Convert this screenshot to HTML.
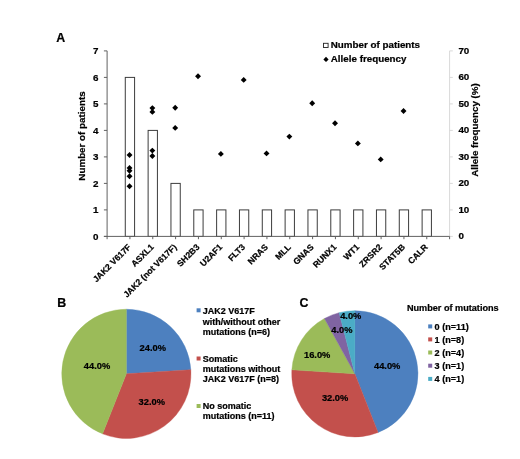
<!DOCTYPE html>
<html><head><meta charset="utf-8"><title>Figure</title>
<style>
html,body{margin:0;padding:0;background:#fff;}
body{width:520px;height:459px;overflow:hidden;}
svg{display:block;will-change:transform;}
text{font-family:"Liberation Sans",Arial,Helvetica,sans-serif;font-weight:bold;fill:#000;stroke:#000;stroke-width:0.22px;stroke-linejoin:round;}
</style></head><body>
<svg width="520" height="459" viewBox="0 0 520 459">
<rect width="520" height="459" fill="#ffffff"/>
<rect x="125.28" y="77.40" width="9.3" height="159.00" fill="#fff" stroke="#3c3c3c" stroke-width="1"/>
<rect x="148.12" y="130.40" width="9.3" height="106.00" fill="#fff" stroke="#3c3c3c" stroke-width="1"/>
<rect x="170.95" y="183.40" width="9.3" height="53.00" fill="#fff" stroke="#3c3c3c" stroke-width="1"/>
<rect x="193.78" y="209.90" width="9.3" height="26.50" fill="#fff" stroke="#3c3c3c" stroke-width="1"/>
<rect x="216.62" y="209.90" width="9.3" height="26.50" fill="#fff" stroke="#3c3c3c" stroke-width="1"/>
<rect x="239.45" y="209.90" width="9.3" height="26.50" fill="#fff" stroke="#3c3c3c" stroke-width="1"/>
<rect x="262.28" y="209.90" width="9.3" height="26.50" fill="#fff" stroke="#3c3c3c" stroke-width="1"/>
<rect x="285.12" y="209.90" width="9.3" height="26.50" fill="#fff" stroke="#3c3c3c" stroke-width="1"/>
<rect x="307.95" y="209.90" width="9.3" height="26.50" fill="#fff" stroke="#3c3c3c" stroke-width="1"/>
<rect x="330.78" y="209.90" width="9.3" height="26.50" fill="#fff" stroke="#3c3c3c" stroke-width="1"/>
<rect x="353.62" y="209.90" width="9.3" height="26.50" fill="#fff" stroke="#3c3c3c" stroke-width="1"/>
<rect x="376.45" y="209.90" width="9.3" height="26.50" fill="#fff" stroke="#3c3c3c" stroke-width="1"/>
<rect x="399.28" y="209.90" width="9.3" height="26.50" fill="#fff" stroke="#3c3c3c" stroke-width="1"/>
<rect x="422.12" y="209.90" width="9.3" height="26.50" fill="#fff" stroke="#3c3c3c" stroke-width="1"/>
<line x1="449.6" y1="50.9" x2="449.6" y2="236.4" stroke="#d9d9d9" stroke-width="1"/>
<line x1="449.6" y1="236.40" x2="452.8" y2="236.40" stroke="#d9d9d9" stroke-width="1"/>
<line x1="449.6" y1="209.90" x2="452.8" y2="209.90" stroke="#d9d9d9" stroke-width="1"/>
<line x1="449.6" y1="183.40" x2="452.8" y2="183.40" stroke="#d9d9d9" stroke-width="1"/>
<line x1="449.6" y1="156.90" x2="452.8" y2="156.90" stroke="#d9d9d9" stroke-width="1"/>
<line x1="449.6" y1="130.40" x2="452.8" y2="130.40" stroke="#d9d9d9" stroke-width="1"/>
<line x1="449.6" y1="103.90" x2="452.8" y2="103.90" stroke="#d9d9d9" stroke-width="1"/>
<line x1="449.6" y1="77.40" x2="452.8" y2="77.40" stroke="#d9d9d9" stroke-width="1"/>
<line x1="449.6" y1="50.90" x2="452.8" y2="50.90" stroke="#d9d9d9" stroke-width="1"/>
<line x1="107.1" y1="50.9" x2="107.1" y2="236.9" stroke="#626262" stroke-width="1"/>
<line x1="103.89999999999999" y1="236.40" x2="107.1" y2="236.40" stroke="#626262" stroke-width="1"/>
<line x1="103.89999999999999" y1="209.90" x2="107.1" y2="209.90" stroke="#626262" stroke-width="1"/>
<line x1="103.89999999999999" y1="183.40" x2="107.1" y2="183.40" stroke="#626262" stroke-width="1"/>
<line x1="103.89999999999999" y1="156.90" x2="107.1" y2="156.90" stroke="#626262" stroke-width="1"/>
<line x1="103.89999999999999" y1="130.40" x2="107.1" y2="130.40" stroke="#626262" stroke-width="1"/>
<line x1="103.89999999999999" y1="103.90" x2="107.1" y2="103.90" stroke="#626262" stroke-width="1"/>
<line x1="103.89999999999999" y1="77.40" x2="107.1" y2="77.40" stroke="#626262" stroke-width="1"/>
<line x1="103.89999999999999" y1="50.90" x2="107.1" y2="50.90" stroke="#626262" stroke-width="1"/>
<line x1="103.89999999999999" y1="236.4" x2="449.6" y2="236.4" stroke="#626262" stroke-width="1"/>
<line x1="107.10" y1="236.4" x2="107.10" y2="239.20000000000002" stroke="#626262" stroke-width="1"/>
<line x1="129.93" y1="236.4" x2="129.93" y2="239.20000000000002" stroke="#626262" stroke-width="1"/>
<line x1="152.77" y1="236.4" x2="152.77" y2="239.20000000000002" stroke="#626262" stroke-width="1"/>
<line x1="175.60" y1="236.4" x2="175.60" y2="239.20000000000002" stroke="#626262" stroke-width="1"/>
<line x1="198.43" y1="236.4" x2="198.43" y2="239.20000000000002" stroke="#626262" stroke-width="1"/>
<line x1="221.27" y1="236.4" x2="221.27" y2="239.20000000000002" stroke="#626262" stroke-width="1"/>
<line x1="244.10" y1="236.4" x2="244.10" y2="239.20000000000002" stroke="#626262" stroke-width="1"/>
<line x1="266.93" y1="236.4" x2="266.93" y2="239.20000000000002" stroke="#626262" stroke-width="1"/>
<line x1="289.77" y1="236.4" x2="289.77" y2="239.20000000000002" stroke="#626262" stroke-width="1"/>
<line x1="312.60" y1="236.4" x2="312.60" y2="239.20000000000002" stroke="#626262" stroke-width="1"/>
<line x1="335.43" y1="236.4" x2="335.43" y2="239.20000000000002" stroke="#626262" stroke-width="1"/>
<line x1="358.27" y1="236.4" x2="358.27" y2="239.20000000000002" stroke="#626262" stroke-width="1"/>
<line x1="381.10" y1="236.4" x2="381.10" y2="239.20000000000002" stroke="#626262" stroke-width="1"/>
<line x1="403.93" y1="236.4" x2="403.93" y2="239.20000000000002" stroke="#626262" stroke-width="1"/>
<line x1="426.77" y1="236.4" x2="426.77" y2="239.20000000000002" stroke="#626262" stroke-width="1"/>
<line x1="449.60" y1="236.4" x2="449.60" y2="239.20000000000002" stroke="#626262" stroke-width="1"/>
<text x="98.50" y="239.55" font-size="9.8" text-anchor="end">0</text>
<text x="458.40" y="239.20" font-size="9.8">0</text>
<text x="98.50" y="213.05" font-size="9.8" text-anchor="end">1</text>
<text x="458.40" y="212.70" font-size="9.8">10</text>
<text x="98.50" y="186.55" font-size="9.8" text-anchor="end">2</text>
<text x="458.40" y="186.20" font-size="9.8">20</text>
<text x="98.50" y="160.05" font-size="9.8" text-anchor="end">3</text>
<text x="458.40" y="159.70" font-size="9.8">30</text>
<text x="98.50" y="133.55" font-size="9.8" text-anchor="end">4</text>
<text x="458.40" y="133.20" font-size="9.8">40</text>
<text x="98.50" y="107.05" font-size="9.8" text-anchor="end">5</text>
<text x="458.40" y="106.70" font-size="9.8">50</text>
<text x="98.50" y="80.55" font-size="9.8" text-anchor="end">6</text>
<text x="458.40" y="80.20" font-size="9.8">60</text>
<text x="98.50" y="54.05" font-size="9.8" text-anchor="end">7</text>
<text x="458.40" y="53.70" font-size="9.8">70</text>
<text transform="translate(85.0,136) rotate(-90)" font-size="9.8" text-anchor="middle">Number of patients</text>
<text transform="translate(478.4,130) rotate(-90)" font-size="9.8" text-anchor="middle">Allele frequency (%)</text>
<text transform="translate(131.53,247.70) rotate(-45)" font-size="8.6" text-anchor="end">JAK2 V617F</text>
<text transform="translate(154.37,247.70) rotate(-45)" font-size="8.6" text-anchor="end">ASXL1</text>
<text transform="translate(177.20,247.70) rotate(-45)" font-size="8.6" text-anchor="end">JAK2 (not V617F)</text>
<text transform="translate(200.03,247.70) rotate(-45)" font-size="8.6" text-anchor="end">SH2B3</text>
<text transform="translate(222.87,247.70) rotate(-45)" font-size="8.6" text-anchor="end">U2AF1</text>
<text transform="translate(245.70,247.70) rotate(-45)" font-size="8.6" text-anchor="end">FLT3</text>
<text transform="translate(268.53,247.70) rotate(-45)" font-size="8.6" text-anchor="end">NRAS</text>
<text transform="translate(291.37,247.70) rotate(-45)" font-size="8.6" text-anchor="end">MLL</text>
<text transform="translate(314.20,247.70) rotate(-45)" font-size="8.6" text-anchor="end">GNAS</text>
<text transform="translate(337.03,247.70) rotate(-45)" font-size="8.6" text-anchor="end">RUNX1</text>
<text transform="translate(359.87,247.70) rotate(-45)" font-size="8.6" text-anchor="end">WT1</text>
<text transform="translate(382.70,247.70) rotate(-45)" font-size="8.6" text-anchor="end">ZRSR2</text>
<text transform="translate(405.53,247.70) rotate(-45)" font-size="8.6" text-anchor="end">STAT5B</text>
<text transform="translate(428.37,247.70) rotate(-45)" font-size="8.6" text-anchor="end">CALR</text>
<path d="M129.53 152.05L132.48 155.00L129.53 157.95L126.58 155.00Z" fill="#000"/>
<path d="M129.53 164.95L132.48 167.90L129.53 170.85L126.58 167.90Z" fill="#000"/>
<path d="M129.53 167.85L132.48 170.80L129.53 173.75L126.58 170.80Z" fill="#000"/>
<path d="M129.53 173.25L132.48 176.20L129.53 179.15L126.58 176.20Z" fill="#000"/>
<path d="M129.53 183.25L132.48 186.20L129.53 189.15L126.58 186.20Z" fill="#000"/>
<path d="M152.37 105.15L155.32 108.10L152.37 111.05L149.42 108.10Z" fill="#000"/>
<path d="M152.37 108.95L155.32 111.90L152.37 114.85L149.42 111.90Z" fill="#000"/>
<path d="M152.37 147.65L155.32 150.60L152.37 153.55L149.42 150.60Z" fill="#000"/>
<path d="M152.37 153.05L155.32 156.00L152.37 158.95L149.42 156.00Z" fill="#000"/>
<path d="M175.20 104.75L178.15 107.70L175.20 110.65L172.25 107.70Z" fill="#000"/>
<path d="M175.20 124.95L178.15 127.90L175.20 130.85L172.25 127.90Z" fill="#000"/>
<path d="M198.03 73.25L200.98 76.20L198.03 79.15L195.08 76.20Z" fill="#000"/>
<path d="M220.87 150.95L223.82 153.90L220.87 156.85L217.92 153.90Z" fill="#000"/>
<path d="M243.70 76.95L246.65 79.90L243.70 82.85L240.75 79.90Z" fill="#000"/>
<path d="M266.53 150.45L269.48 153.40L266.53 156.35L263.58 153.40Z" fill="#000"/>
<path d="M289.37 133.65L292.32 136.60L289.37 139.55L286.42 136.60Z" fill="#000"/>
<path d="M312.20 100.25L315.15 103.20L312.20 106.15L309.25 103.20Z" fill="#000"/>
<path d="M335.03 120.35L337.98 123.30L335.03 126.25L332.08 123.30Z" fill="#000"/>
<path d="M357.87 140.45L360.82 143.40L357.87 146.35L354.92 143.40Z" fill="#000"/>
<path d="M380.70 156.45L383.65 159.40L380.70 162.35L377.75 159.40Z" fill="#000"/>
<path d="M403.53 108.05L406.48 111.00L403.53 113.95L400.58 111.00Z" fill="#000"/>
<rect x="323.5" y="43.3" width="4.6" height="4.2" fill="#fff" stroke="#222" stroke-width="0.9"/>
<text x="330.8" y="48.0" font-size="9.8">Number of patients</text>
<path d="M326.00 56.80L328.60 59.40L326.00 62.00L323.40 59.40Z" fill="#000"/>
<text x="330.8" y="61.6" font-size="9.8">Allele frequency</text>
<text x="56.2" y="42.1" font-size="12.4">A</text>
<text x="57.3" y="307.3" font-size="12.4">B</text>
<text x="299.6" y="307.1" font-size="12.4">C</text>
<path d="M126.35 373.8L126.35 309.20A64.6 64.6 0 0 1 190.82 369.74Z" fill="#4d80bf" stroke="#4d80bf" stroke-width="0.4"/>
<path d="M126.35 373.8L190.82 369.74A64.6 64.6 0 0 1 102.57 433.86Z" fill="#c3504c" stroke="#c3504c" stroke-width="0.4"/>
<path d="M126.35 373.8L102.57 433.86A64.6 64.6 0 0 1 126.35 309.20Z" fill="#9bbb59" stroke="#9bbb59" stroke-width="0.4"/>
<text x="152.8" y="351.1" font-size="9.3" text-anchor="middle">24.0%</text>
<text x="151.8" y="405.0" font-size="9.3" text-anchor="middle">32.0%</text>
<text x="97.0" y="368.6" font-size="9.3" text-anchor="middle">44.0%</text>
<path d="M354.85 373.8L354.85 310.70A63.1 63.1 0 0 1 378.08 432.47Z" fill="#4d80bf" stroke="#4d80bf" stroke-width="0.4"/>
<path d="M354.85 373.8L378.08 432.47A63.1 63.1 0 0 1 291.87 369.84Z" fill="#c3504c" stroke="#c3504c" stroke-width="0.4"/>
<path d="M354.85 373.8L291.87 369.84A63.1 63.1 0 0 1 324.45 318.51Z" fill="#9bbb59" stroke="#9bbb59" stroke-width="0.4"/>
<path d="M354.85 373.8L324.45 318.51A63.1 63.1 0 0 1 339.16 312.68Z" fill="#8064a2" stroke="#8064a2" stroke-width="0.4"/>
<path d="M354.85 373.8L339.16 312.68A63.1 63.1 0 0 1 354.85 310.70Z" fill="#4bacc6" stroke="#4bacc6" stroke-width="0.4"/>
<text x="387.2" y="369.3" font-size="9.3" text-anchor="middle">44.0%</text>
<text x="335.1" y="401.1" font-size="9.3" text-anchor="middle">32.0%</text>
<text x="317.2" y="357.7" font-size="9.3" text-anchor="middle">16.0%</text>
<text x="341.9" y="332.7" font-size="9.3" text-anchor="middle">4.0%</text>
<text x="350.8" y="319.2" font-size="9.3" text-anchor="middle">4.0%</text>
<rect x="196.6" y="308.3" width="4.0" height="4.0" fill="#4d80bf"/>
<text x="202.8" y="314.3" font-size="9.0">JAK2 V617F</text>
<text x="202.8" y="324.6" font-size="9.0">with/without other</text>
<text x="202.8" y="334.9" font-size="9.0">mutations (n=6)</text>
<rect x="196.6" y="356.5" width="4.0" height="4.0" fill="#c3504c"/>
<text x="202.8" y="361.9" font-size="9.0">Somatic</text>
<text x="202.8" y="372.0" font-size="9.0">mutations without</text>
<text x="202.8" y="382.1" font-size="9.0">JAK2 V617F (n=8)</text>
<rect x="196.6" y="404.0" width="4.0" height="4.0" fill="#9bbb59"/>
<text x="202.8" y="409.0" font-size="9.0">No somatic</text>
<text x="202.8" y="419.2" font-size="9.0">mutations (n=11)</text>
<text x="406.9" y="311.2" font-size="9.15">Number of mutations</text>
<rect x="428.2" y="324.40000000000003" width="4.0" height="4.0" fill="#4d80bf"/>
<text x="434.6" y="329.6" font-size="9.1">0 (n=11)</text>
<rect x="428.2" y="337.40000000000003" width="4.0" height="4.0" fill="#c3504c"/>
<text x="434.6" y="342.6" font-size="9.1">1 (n=8)</text>
<rect x="428.2" y="350.5" width="4.0" height="4.0" fill="#9bbb59"/>
<text x="434.6" y="355.7" font-size="9.1">2 (n=4)</text>
<rect x="428.2" y="363.7" width="4.0" height="4.0" fill="#8064a2"/>
<text x="434.6" y="368.9" font-size="9.1">3 (n=1)</text>
<rect x="428.2" y="376.90000000000003" width="4.0" height="4.0" fill="#4bacc6"/>
<text x="434.6" y="382.1" font-size="9.1">4 (n=1)</text>
</svg>
</body></html>
